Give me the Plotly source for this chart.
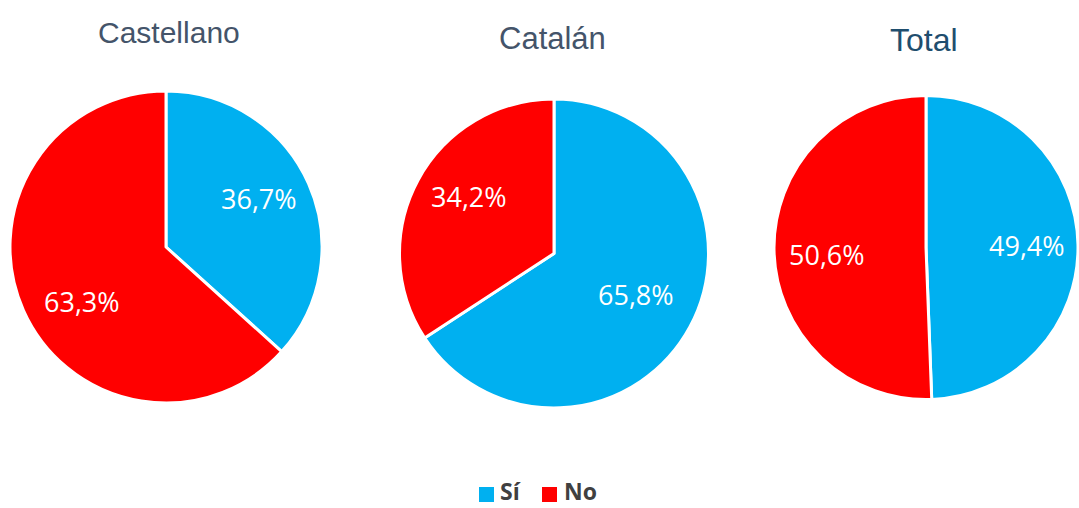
import math
import plotly.graph_objects as go

# Share of answers per language group (percent)
groups = ["Castellano", "Catalán", "Total"]
answers = ["Sí", "No"]
si_values = [36.7, 65.8, 49.4]
no_values = [63.3, 34.2, 50.6]

colors = ["#00B0F0", "#FF0000"]

W, H = 1079, 508

# Pie geometry in pixels: centre x, centre y, radius
pie_geom = [(166, 247, 155), (554, 253.5, 153.5), (926, 247.5, 151)]
PAD = 1  # plotly trims a little off the radius inside the domain box

# Title text: centre x, centre y, font size, colour
title_pos = [(169, 32, 30, "#44546A"), (552, 39, 31, "#44546A"), (924, 40, 32, "#1F4E6E")]

# Percentage labels sit on the slice bisector, then get a small nudge (px)
LABEL_K = 0.66
label_nudge = [[(0, -7), (9, 13)], [(-7, -7), (4, -9)], [(1, 0), (1, 5)]]


def px(x, y):
    return x / W, 1 - y / H


def fmt(v):
    return f"{v:.1f}%".replace(".", ",")


fig = go.Figure()
for i, g in enumerate(groups):
    cx, cy, r = pie_geom[i]
    vals = [si_values[i], no_values[i]]
    x0 = max(0, cx - r - PAD) / W
    x1 = min(W, cx + r + PAD) / W
    y0 = 1 - (cy + r + PAD) / H
    y1 = 1 - (cy - r - PAD) / H
    fig.add_trace(go.Pie(
        labels=answers,
        values=vals,
        name=g,
        sort=False,
        direction="clockwise",
        rotation=0,
        marker=dict(colors=colors, line=dict(color="white", width=3)),
        textinfo="none",
        hoverinfo="label+percent",
        domain=dict(x=[x0, x1], y=[y0, y1]),
        showlegend=False,
    ))

    # slice labels
    total = sum(vals)
    start = 0.0
    for j, v in enumerate(vals):
        mid = (start + v / 2) / total * 2 * math.pi
        start += v
        lx = cx + LABEL_K * r * math.sin(mid) + label_nudge[i][j][0]
        ly = cy - LABEL_K * r * math.cos(mid) + label_nudge[i][j][1]
        ax, ay = px(lx, ly)
        fig.add_annotation(
            text=fmt(v), x=ax, y=ay, xref="paper", yref="paper",
            xanchor="center", yanchor="middle", showarrow=False,
            font=dict(family="Open Sans", size=27, color="white"),
        )

    tx, ty, fs, col = title_pos[i]
    ax, ay = px(tx, ty)
    fig.add_annotation(
        text=g, x=ax, y=ay, xref="paper", yref="paper",
        xanchor="center", yanchor="middle", showarrow=False,
        font=dict(family="Liberation Sans", size=fs, color=col),
    )

# legend: coloured squares with bold captions along the bottom edge
legend_items = [(479, 501), (542, 565)]
for k, name in enumerate(answers):
    sx, tx = legend_items[k]
    fig.add_shape(
        type="rect", xref="paper", yref="paper",
        x0=sx / W, x1=(sx + 15) / W, y0=1 - 502 / H, y1=1 - 487 / H,
        fillcolor=colors[k], line=dict(width=0),
    )
    fig.add_annotation(
        text=f"<b>{name}</b>", x=(tx - 2) / W, y=0, xref="paper", yref="paper",
        xanchor="left", yanchor="bottom", showarrow=False, borderpad=0,
        font=dict(family="Open Sans", size=23, color="#404040"),
    )

fig.update_layout(
    width=W, height=H,
    margin=dict(l=0, r=0, t=0, b=0),
    paper_bgcolor="white",
    plot_bgcolor="white",
    showlegend=False,
)

fig.write_html("out.html")
